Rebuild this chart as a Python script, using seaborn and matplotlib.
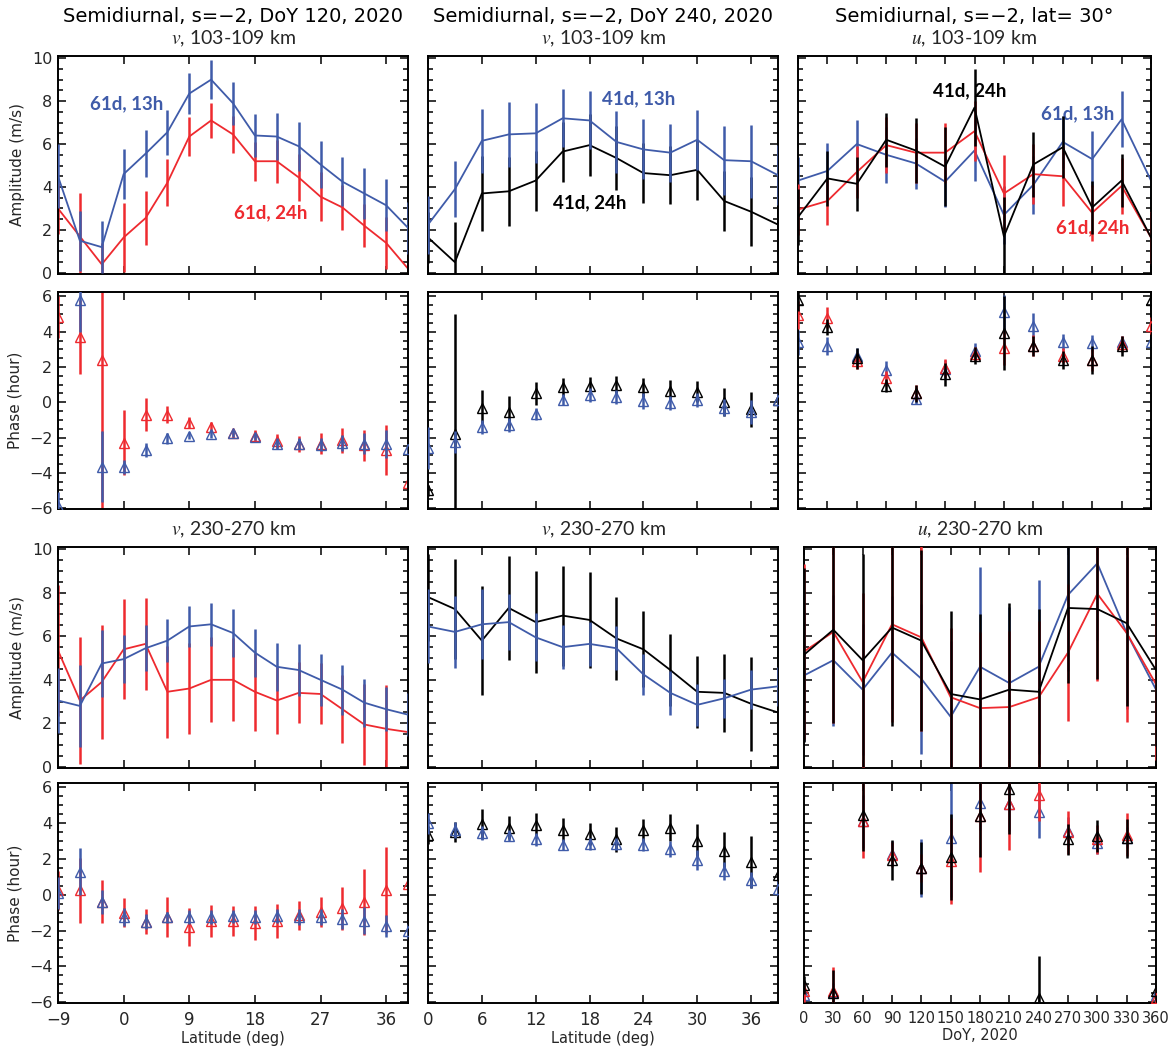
import numpy as np
import matplotlib
matplotlib.use("Agg")
import matplotlib.pyplot as plt
from matplotlib.ticker import MultipleLocator, FixedLocator, NullFormatter
import seaborn as sns

sns.set_theme(style="ticks")
plt.rcParams["font.family"] = ["DejaVu Sans"]
plt.rcParams["mathtext.fontset"] = "stix"

BLUE = "#3F5BA9"
RED = "#EE2A2F"
BLACK = "#000000"

# ---------------- data ----------------
lat_a = [-9, -6, -3, 0, 3, 6, 9, 12, 15, 18, 21, 24, 27, 30, 33, 36, 39]
lat_b = [0, 3, 6, 9, 12, 15, 18, 21, 24, 27, 30, 33, 36, 39]
doy = [0, 30, 60, 90, 120, 150, 180, 210, 240, 270, 300, 330, 360]

# Row 1, col 1 : v amplitude 103-109 km, DoY 120
amp_a_blue = [4.5, 1.5, 1.2, 4.6, 5.55, 6.55, 8.35, 9.0, 7.9, 6.4, 6.35, 5.9, 5.05, 4.25, 3.7, 3.15, 2.1]
err_a_blue = [1.5, 1.4, 1.2, 1.15, 1.1, 1.05, 0.95, 0.9, 1.0, 1.0, 1.1, 1.15, 1.1, 1.15, 1.2, 1.2, 1.2]
amp_a_red = [3.0, 1.7, 0.4, 1.65, 2.55, 4.2, 6.35, 7.1, 6.45, 5.2, 5.2, 4.45, 3.55, 3.05, 2.2, 1.4, 0.2]
err_a_red = [1.2, 2.0, 1.0, 1.6, 1.25, 1.1, 0.9, 0.8, 0.85, 0.9, 1.0, 1.1, 1.15, 1.05, 1.0, 1.2, 1.0]

# Row 1, col 2 : v amplitude 103-109 km, DoY 240
amp_b_blue = [2.25, 3.9, 6.15, 6.45, 6.5, 7.2, 7.1, 6.1, 5.75, 5.6, 6.2, 5.25, 5.2, 4.55]
err_b_blue = [1.35, 1.3, 1.5, 1.5, 1.4, 1.35, 1.35, 1.45, 1.4, 1.35, 1.4, 1.6, 1.7, 1.4]
amp_b_black = [1.65, 0.5, 3.7, 3.8, 4.3, 5.65, 5.95, 5.35, 4.65, 4.55, 4.8, 3.35, 2.85, 2.25]
err_b_black = [1.2, 1.85, 1.75, 1.6, 1.4, 1.4, 1.45, 1.5, 1.4, 1.35, 1.4, 1.4, 1.6, 1.4]

# Row 1, col 3 : u amplitude 103-109 km, lat 30
amp_c_blue = [4.3, 4.75, 6.0, 5.5, 5.1, 4.25, 5.7, 2.7, 4.1, 6.1, 5.3, 7.15, 4.3]
err_c_blue = [1.1, 1.3, 1.1, 1.3, 1.2, 1.2, 1.4, 1.35, 1.35, 1.2, 1.3, 1.3, 1.1]
amp_c_red = [2.95, 3.35, 4.7, 5.95, 5.6, 5.6, 6.6, 3.7, 4.6, 4.5, 2.8, 4.05, 1.65]
err_c_red = [1.2, 1.1, 1.2, 1.3, 1.4, 1.4, 1.4, 1.8, 1.4, 1.4, 1.3, 1.3, 1.2]
amp_c_black = [2.6, 4.4, 4.15, 6.2, 5.7, 4.95, 7.7, 1.7, 5.05, 5.85, 3.05, 4.3, 1.65]
err_c_black = [1.3, 1.3, 1.25, 1.25, 1.5, 1.85, 1.8, 1.85, 1.5, 1.45, 1.25, 1.25, 1.2]

# Row 2, col 1 : phase
ph_d_red = [4.85, 3.7, 2.4, -2.3, -0.7, -0.7, -1.15, -1.4, -1.75, -1.9, -2.2, -2.35, -2.35, -2.15, -2.45, -2.7, -4.55]
err_d_red = [1.2, 2.1, 8.5, 1.85, 0.95, 0.5, 0.3, 0.3, 0.25, 0.3, 0.4, 0.45, 0.6, 0.7, 0.9, 1.4, 0.5]
ph_d_blue = [-5.9, 5.8, -3.65, -3.65, -2.7, -2.05, -1.9, -1.8, -1.75, -1.95, -2.35, -2.35, -2.4, -2.3, -2.35, -2.35, -2.65]
err_d_blue = [0.8, 1.8, 2.0, 0.4, 0.4, 0.3, 0.2, 0.2, 0.2, 0.2, 0.3, 0.3, 0.35, 0.45, 0.6, 0.8, 0.3]

# Row 2, col 2 : phase
ph_e_black = [-5.0, -1.8, -0.3, -0.55, 0.5, 0.85, 0.95, 1.0, 0.85, 0.65, 0.6, 0.0, -0.4, 0.15]
err_e_black = [0.3, 6.8, 1.0, 0.9, 0.65, 0.5, 0.5, 0.5, 0.55, 0.6, 0.6, 0.8, 1.0, 0.5]
ph_e_blue = [-2.6, -2.25, -1.4, -1.3, -0.65, 0.15, 0.4, 0.3, 0.05, -0.05, 0.15, -0.3, -0.55, 0.15]
err_e_blue = [1.2, 0.6, 0.4, 0.4, 0.35, 0.3, 0.4, 0.4, 0.45, 0.4, 0.4, 0.5, 0.7, 0.4]

# Row 2, col 3 : phase
ph_f_red = [4.95, 4.8, 2.35, 1.35, 0.55, 1.95, 2.75, 3.1, 3.2, 2.65, 2.4, 3.3, 4.35]
err_f_red = [0.8, 0.6, 0.45, 0.4, 0.45, 0.5, 0.4, 1.0, 0.6, 0.4, 0.6, 0.45, 0.5]
ph_f_blue = [3.4, 3.2, 2.65, 1.85, 0.2, 1.9, 2.9, 5.1, 4.35, 3.4, 3.35, 3.4, 3.4]
err_f_blue = [0.7, 0.5, 0.4, 0.5, 0.3, 0.5, 0.45, 1.0, 0.7, 0.45, 0.45, 0.35, 0.5]
ph_f_black = [5.8, 4.25, 2.5, 0.95, 0.5, 1.6, 2.65, 3.95, 3.2, 2.4, 2.4, 3.2, 5.8]
err_f_black = [0.6, 0.45, 0.6, 0.35, 0.5, 0.65, 0.5, 2.1, 0.55, 0.5, 0.8, 0.55, 0.6]

# Row 3, col 1 : v amplitude 230-270 km
amp_g_blue = [3.05, 2.8, 4.75, 4.95, 5.45, 5.8, 6.45, 6.55, 6.15, 5.25, 4.6, 4.45, 4.0, 3.55, 2.95, 2.65, 2.4]
err_g_blue = [1.5, 1.9, 1.55, 1.1, 1.05, 1.0, 0.95, 1.0, 1.1, 1.1, 1.1, 1.2, 1.2, 1.15, 1.1, 1.0, 1.0]
amp_g_red = [5.35, 3.05, 3.9, 5.4, 5.65, 3.45, 3.6, 4.0, 4.0, 3.45, 3.05, 3.4, 3.35, 2.65, 1.95, 1.75, 1.6]
err_g_red = [3.0, 2.9, 2.6, 2.3, 2.1, 2.1, 2.1, 1.95, 1.9, 1.8, 1.55, 1.4, 1.4, 1.55, 1.85, 2.0, 1.5]

# Row 3, col 2
amp_h_black = [7.8, 7.25, 5.8, 7.3, 6.65, 6.95, 6.75, 5.9, 5.4, 4.45, 3.45, 3.4, 2.9, 2.5]
err_h_black = [2.0, 2.3, 2.5, 2.4, 2.35, 2.3, 2.2, 1.9, 1.75, 1.65, 1.65, 1.8, 2.15, 1.8]
amp_h_blue = [6.45, 6.2, 6.55, 6.65, 5.95, 5.5, 5.65, 5.45, 4.25, 3.4, 2.85, 3.15, 3.55, 3.7]
err_h_blue = [1.7, 1.65, 1.6, 1.3, 1.1, 1.0, 1.0, 1.0, 0.95, 1.0, 0.95, 0.9, 0.9, 0.9]

# Row 3, col 3
amp_i_black = [5.15, 6.3, 4.9, 6.4, 5.8, 3.35, 3.1, 3.55, 3.45, 7.3, 7.25, 6.6, 4.45]
err_i_black = [4.0, 4.3, 4.9, 4.5, 4.15, 3.8, 3.9, 4.0, 3.8, 3.45, 3.2, 3.8, 3.5]
amp_i_red = [5.3, 6.2, 3.9, 6.55, 5.95, 3.2, 2.7, 2.75, 3.2, 5.25, 7.95, 6.15, 3.8]
err_i_red = [4.0, 4.2, 4.1, 4.5, 4.3, 3.2, 3.5, 3.5, 3.5, 3.15, 4.0, 4.1, 3.5]
amp_i_blue = [4.2, 4.9, 3.55, 5.25, 4.05, 2.3, 4.6, 3.85, 4.6, 7.9, 9.35, 6.15, 3.55]
err_i_blue = [3.0, 3.0, 3.0, 2.6, 3.45, 3.5, 4.6, 3.5, 4.0, 3.5, 3.5, 3.5, 3.0]

# Row 4, col 1
ph_j_red = [0.25, 0.25, -0.4, -1.0, -1.5, -1.25, -1.8, -1.45, -1.45, -1.55, -1.45, -1.15, -0.95, -0.75, -0.4, 0.25, 0.6]
err_j_red = [1.1, 1.8, 1.2, 0.8, 0.7, 1.1, 1.05, 0.9, 0.85, 0.95, 0.95, 0.8, 0.85, 1.2, 1.85, 2.4, 0.6]
ph_j_blue = [0.1, 1.3, -0.4, -1.25, -1.5, -1.25, -1.25, -1.25, -1.2, -1.25, -1.2, -1.25, -1.25, -1.35, -1.45, -1.75, -2.05]
err_j_blue = [0.9, 1.3, 0.65, 0.5, 0.4, 0.3, 0.4, 0.4, 0.35, 0.4, 0.4, 0.45, 0.45, 0.55, 0.75, 0.6, 0.4]

# Row 4, col 2
ph_k_black = [3.35, 3.5, 3.95, 3.75, 3.9, 3.65, 3.4, 3.1, 3.6, 3.75, 3.0, 2.45, 1.85, 1.1]
err_k_black = [0.5, 0.55, 0.85, 0.65, 0.7, 0.65, 0.6, 0.7, 0.65, 0.75, 0.95, 1.05, 1.45, 0.5]
ph_k_blue = [4.0, 3.6, 3.45, 3.3, 3.1, 2.8, 2.85, 2.85, 2.8, 2.55, 1.95, 1.35, 0.85, 0.35]
err_k_blue = [0.6, 0.45, 0.4, 0.3, 0.35, 0.3, 0.35, 0.35, 0.35, 0.45, 0.55, 0.5, 0.45, 0.4]

# Row 4, col 3
ph_l_red = [-5.4, -5.4, 4.15, 2.25, 1.5, 1.9, 4.4, 5.1, 5.6, 3.5, 3.1, 3.35, -5.75]
err_l_red = [0.6, 1.35, 2.1, 0.7, 0.8, 2.4, 3.1, 2.6, 1.5, 1.2, 0.8, 1.2, 0.6]
ph_l_blue = [-5.6, -5.45, 4.1, 2.3, 1.5, 3.2, 5.15, 5.05, 4.65, 3.55, 2.9, 3.2, -5.6]
err_l_blue = [0.5, 0.5, 1.5, 0.7, 1.6, 3.3, 1.5, 1.5, 1.5, 0.8, 0.6, 0.6, 0.5]
ph_l_black = [-5.05, -5.5, 4.45, 1.95, 1.5, 2.1, 4.4, 5.9, -5.75, 3.1, 3.3, 3.15, -5.4]
err_l_black = [0.5, 1.3, 2.0, 1.1, 1.45, 2.4, 2.3, 2.5, 2.3, 0.85, 0.9, 1.1, 0.5]

col_titles = ["Semidiurnal, s=\u22122, DoY 120, 2020",
              "Semidiurnal, s=\u22122, DoY 240, 2020",
              "Semidiurnal, s=\u22122, lat= 30\u00b0"]
sub_top = [r"$\mathit{v}$, 103-109 km", r"$\mathit{v}$, 103-109 km", r"$\mathit{u}$, 103-109 km"]
sub_mid = [r"$\mathit{v}$, 230-270 km", r"$\mathit{v}$, 230-270 km", r"$\mathit{u}$, 230-270 km"]

# ---------------- figure ----------------
W, H = 1175, 1051
fig = plt.figure(figsize=(W / 100, H / 100), dpi=100)


def add_ax(l, r, t, b):
    return fig.add_axes([l / W, 1 - b / H, (r - l) / W, (b - t) / H])


cols = [(58, 408), (428, 778), (798, 1151)]
cols_low = [(58, 408), (428, 778), (804, 1156)]
rows = [(56, 274), (292, 509), (547, 768), (783, 1003)]

xinfo = [
    (lat_a, (-9, 39), [-9, 0, 9, 18, 27, 36]),
    (lat_b, (0, 39), [0, 6, 12, 18, 24, 30, 36]),
    (doy, (0, 360), [0, 30, 60, 90, 120, 150, 180, 210, 240, 270, 300, 330, 360]),
]

axes = {}
for r in range(4):
    for c in range(3):
        l, rr = (cols if r < 2 else cols_low)[c]
        t, b = rows[r]
        ax = add_ax(l, rr, t, b)
        axes[(r, c)] = ax


def style(ax, r, c):
    x, xl, xt = xinfo[c]
    ax.set_xlim(*xl)
    if r in (0, 2):
        ax.set_ylim(-0.05, 10.1)
        ax.yaxis.set_major_locator(FixedLocator([0, 2, 4, 6, 8, 10]))
    else:
        ax.set_ylim(-6.05, 6.25)
        ax.yaxis.set_major_locator(FixedLocator([-6, -4, -2, 0, 2, 4, 6]))
    ax.yaxis.set_minor_locator(MultipleLocator(0.5))
    ax.xaxis.set_major_locator(FixedLocator(xt))
    ax.tick_params(which="both", direction="in", top=True, right=True,
                   color="black", width=1.1)
    ax.tick_params(which="major", length=6)
    ax.tick_params(which="minor", length=3.5)
    ax.tick_params(axis="x", which="minor", bottom=False, top=False)
    for s in ax.spines.values():
        s.set_linewidth(1.4)
        s.set_color("black")
    ax.set_xlabel("")
    ax.set_ylabel("")
    if c == 0:
        ax.tick_params(axis="y", labelsize=11.5, pad=4)
        ax.set_ylabel("Amplitude (m/s)" if r in (0, 2) else "Phase (hour)",
                      fontsize=11, labelpad=5)
    else:
        ax.yaxis.set_major_formatter(NullFormatter())
    if r == 3:
        ax.tick_params(axis="x", labelsize=(12 if c < 2 else 10.5), pad=6)
        ax.set_xlabel("Latitude (deg)" if c < 2 else "DoY, 2020", fontsize=10.5, labelpad=1)
    else:
        ax.xaxis.set_major_formatter(NullFormatter())


def amp(ax, x, y, e, color, z):
    ax.errorbar(x, y, yerr=e, fmt="none", ecolor=color, elinewidth=1.8,
                capsize=0, zorder=z)
    sns.lineplot(x=x, y=y, ax=ax, color=color, linewidth=1.3, estimator=None,
                 sort=False, errorbar=None, zorder=z + 0.5)


def phase(ax, x, y, e, color, z):
    ax.errorbar(x, y, yerr=e, fmt="none", ecolor=color, elinewidth=1.8,
                capsize=0, zorder=z)
    sns.lineplot(x=x, y=y, ax=ax, color=color, estimator=None, sort=False,
                 errorbar=None, marker="^", linestyle="none", markersize=7,
                 markerfacecolor="none", markeredgecolor=color,
                 markeredgewidth=1.0, zorder=z + 0.5)


# Row 1
amp(axes[(0, 0)], lat_a, amp_a_red, err_a_red, RED, 2)
amp(axes[(0, 0)], lat_a, amp_a_blue, err_a_blue, BLUE, 3)
amp(axes[(0, 1)], lat_b, amp_b_black, err_b_black, BLACK, 2)
amp(axes[(0, 1)], lat_b, amp_b_blue, err_b_blue, BLUE, 3)
amp(axes[(0, 2)], doy, amp_c_blue, err_c_blue, BLUE, 2)
amp(axes[(0, 2)], doy, amp_c_red, err_c_red, RED, 3)
amp(axes[(0, 2)], doy, amp_c_black, err_c_black, BLACK, 4)
# Row 2
phase(axes[(1, 0)], lat_a, ph_d_red, err_d_red, RED, 2)
phase(axes[(1, 0)], lat_a, ph_d_blue, err_d_blue, BLUE, 3)
phase(axes[(1, 1)], lat_b, ph_e_black, err_e_black, BLACK, 2)
phase(axes[(1, 1)], lat_b, ph_e_blue, err_e_blue, BLUE, 3)
phase(axes[(1, 2)], doy, ph_f_blue, err_f_blue, BLUE, 2)
phase(axes[(1, 2)], doy, ph_f_red, err_f_red, RED, 3)
phase(axes[(1, 2)], doy, ph_f_black, err_f_black, BLACK, 4)
# Row 3
amp(axes[(2, 0)], lat_a, amp_g_red, err_g_red, RED, 2)
amp(axes[(2, 0)], lat_a, amp_g_blue, err_g_blue, BLUE, 3)
amp(axes[(2, 1)], lat_b, amp_h_black, err_h_black, BLACK, 2)
amp(axes[(2, 1)], lat_b, amp_h_blue, err_h_blue, BLUE, 3)
amp(axes[(2, 2)], doy, amp_i_blue, err_i_blue, BLUE, 2)
amp(axes[(2, 2)], doy, amp_i_red, err_i_red, RED, 3)
amp(axes[(2, 2)], doy, amp_i_black, err_i_black, BLACK, 4)
# Row 4
phase(axes[(3, 0)], lat_a, ph_j_red, err_j_red, RED, 2)
phase(axes[(3, 0)], lat_a, ph_j_blue, err_j_blue, BLUE, 3)
phase(axes[(3, 1)], lat_b, ph_k_black, err_k_black, BLACK, 2)
phase(axes[(3, 1)], lat_b, ph_k_blue, err_k_blue, BLUE, 3)
phase(axes[(3, 2)], doy, ph_l_blue, err_l_blue, BLUE, 2)
phase(axes[(3, 2)], doy, ph_l_red, err_l_red, RED, 3)
phase(axes[(3, 2)], doy, ph_l_black, err_l_black, BLACK, 4)

for r in range(4):
    for c in range(3):
        style(axes[(r, c)], r, c)

# titles (placed in figure pixels)
centers_top = [233, 603, 974]
centers_mid = [233, 603, 980]
for c in range(3):
    fig.text(centers_top[c] / W, 1 - 16 / H, col_titles[c],
             ha="center", va="center", fontsize=14, color="black")
    fig.text(centers_top[c] / W, 1 - 39 / H, sub_top[c],
             ha="center", va="center", fontsize=14, family="Lato")
    fig.text(centers_mid[c] / W, 1 - 530 / H, sub_mid[c],
             ha="center", va="center", fontsize=14, family="Lato")

# curve labels
lab_kw = dict(fontsize=13.5, family="Lato", fontweight="bold", ha="left", va="center")
axes[(0, 0)].text(-4.6, 7.9, "61d, 13h", color=BLUE, **lab_kw)
axes[(0, 0)].text(15.1, 2.8, "61d, 24h", color=RED, **lab_kw)
axes[(0, 1)].text(19.4, 8.1, "41d, 13h", color=BLUE, **lab_kw)
axes[(0, 1)].text(13.9, 3.27, "41d, 24h", color=BLACK, **lab_kw)
axes[(0, 2)].text(138, 8.47, "41d, 24h", color=BLACK, **lab_kw)
axes[(0, 2)].text(248, 7.4, "61d, 13h", color=BLUE, **lab_kw)
axes[(0, 2)].text(263, 2.12, "61d, 24h", color=RED, **lab_kw)

fig.savefig("out.png", dpi=100)
